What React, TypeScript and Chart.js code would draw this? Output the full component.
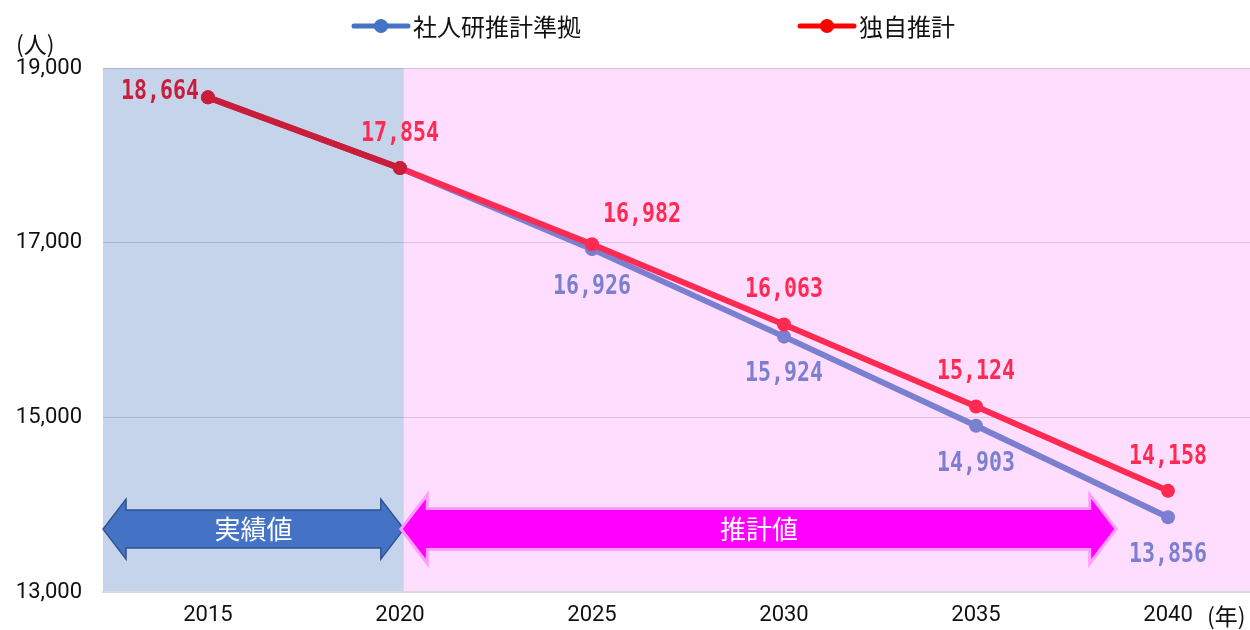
import { useEffect, useRef } from "react";
import { Chart, registerables } from "chart.js";

Chart.register(...registerables);

// ---- data ----
const YEARS = [2015, 2020, 2025, 2030, 2035, 2040];
const IPSS_VALUES = [18664, 17854, 16926, 15924, 14903, 13856]; // 社人研推計準拠
const OWN_VALUES = [18664, 17854, 16982, 16063, 15124, 14158]; // 独自推計
const SERIES_NAMES = ["社人研推計準拠", "独自推計"];
const PERIOD_LABELS = ["実績値", "推計値"];
const Y_MIN = 13000;
const Y_MAX = 19000;
const Y_STEP = 2000;
const Y_UNIT = "(人)";
const X_UNIT = "(年)";

// ---- layout / style (not data) ----
const X_MIN = 2012.266;
const X_MAX = 2042.135;
const SPLIT_YEAR = 2020.1;
const ARROW_VALUE = 13720;
const ESTIMATE_ARROW_END = 2038.6;
const IPSS_LABEL_FROM = 2;

const BLUE_BAND = "#C5D3EB";
const PINK_BAND = "#FFDDFF";
const RED = "#FF2A52";
const CRIMSON = "#C81E3C";
const PURPLE = "#7B7FD0";

const JP = "'Noto Sans CJK JP', sans-serif";
const NUM = "Roboto, 'Noto Sans CJK JP', sans-serif";

const fmt = (v: number) => Number(v).toLocaleString("en-US");

function drawValueLabel(ctx: CanvasRenderingContext2D, text: string, cx: number, cy: number, color: string) {
  ctx.save();
  ctx.translate(cx, cy);
  ctx.scale(0.83, 1);
  ctx.font = "bold 26px 'DejaVu Sans Mono', monospace";
  ctx.fillStyle = color;
  ctx.textAlign = "center";
  ctx.textBaseline = "middle";
  ctx.fillText(text, 0, 2);
  ctx.restore();
}

function arrowPath(ctx: CanvasRenderingContext2D, x0: number, x1: number, cy: number) {
  const sh = 19, hh = 30, hl = 23;
  ctx.beginPath();
  ctx.moveTo(x0, cy);
  ctx.lineTo(x0 + hl, cy - hh);
  ctx.lineTo(x0 + hl, cy - sh);
  ctx.lineTo(x1 - hl, cy - sh);
  ctx.lineTo(x1 - hl, cy - hh);
  ctx.lineTo(x1, cy);
  ctx.lineTo(x1 - hl, cy + hh);
  ctx.lineTo(x1 - hl, cy + sh);
  ctx.lineTo(x0 + hl, cy + sh);
  ctx.lineTo(x0 + hl, cy + hh);
  ctx.closePath();
}

const decorPlugin = {
  id: "decor",
  beforeDraw(chart: any) {
    const { ctx, chartArea: a, scales } = chart;
    const split = scales.x.getPixelForValue(SPLIT_YEAR);
    ctx.save();
    ctx.fillStyle = "#FFFFFF";
    ctx.fillRect(0, 0, chart.width, chart.height);
    ctx.fillStyle = BLUE_BAND;
    ctx.fillRect(a.left, a.top, split - a.left, a.bottom - a.top);
    ctx.fillStyle = PINK_BAND;
    ctx.fillRect(split, a.top, a.right - split, a.bottom - a.top);
    ctx.restore();
  },
  afterDatasetsDraw(chart: any) {
    const { ctx, scales } = chart;
    const x = scales.x, y = scales.y;
    OWN_VALUES.forEach((v, i) => {
      const px = x.getPixelForValue(YEARS[i]);
      const py = y.getPixelForValue(v);
      if (i === 0) drawValueLabel(ctx, fmt(v), px - 48, py - 7, CRIMSON);
      else if (i === 2) drawValueLabel(ctx, fmt(v), px + 50, py - 31, RED);
      else drawValueLabel(ctx, fmt(v), px, py - 36, RED);
    });
    IPSS_VALUES.forEach((v, i) => {
      if (i < IPSS_LABEL_FROM) return;
      const px = x.getPixelForValue(YEARS[i]);
      const py = y.getPixelForValue(v);
      drawValueLabel(ctx, fmt(v), px, py + 36, PURPLE);
    });
  },
  afterDraw(chart: any) {
    const { ctx, chartArea: a, scales } = chart;
    const x = scales.x, y = scales.y;
    const split = x.getPixelForValue(SPLIT_YEAR);
    const cy = y.getPixelForValue(ARROW_VALUE);
    const endX = x.getPixelForValue(ESTIMATE_ARROW_END);
    ctx.save();
    ctx.lineJoin = "miter";
    arrowPath(ctx, a.left, split, cy);
    ctx.fillStyle = "#4472C4";
    ctx.fill();
    ctx.lineWidth = 1.5;
    ctx.strokeStyle = "#2F528F";
    ctx.stroke();
    arrowPath(ctx, split - 1, endX, cy);
    ctx.lineWidth = 6;
    ctx.strokeStyle = "#FF9CFF";
    ctx.stroke();
    ctx.fillStyle = "#FF00FF";
    ctx.fill();
    ctx.fillStyle = "#FFFFFF";
    ctx.font = `26px ${JP}`;
    ctx.textAlign = "center";
    ctx.textBaseline = "middle";
    ctx.fillText(PERIOD_LABELS[0], (a.left + split) / 2, cy);
    ctx.fillText(PERIOD_LABELS[1], (split + endX) / 2, cy);

    const legendItems = [
      { x: 354, color: "#4472C4", text: SERIES_NAMES[0] },
      { x: 800, color: "#FF0000", text: SERIES_NAMES[1] },
    ];
    const ly = 26;
    legendItems.forEach((it) => {
      ctx.strokeStyle = it.color;
      ctx.lineWidth = 5;
      ctx.lineCap = "round";
      ctx.beginPath();
      ctx.moveTo(it.x, ly);
      ctx.lineTo(it.x + 54, ly);
      ctx.stroke();
      ctx.fillStyle = it.color;
      ctx.beginPath();
      ctx.arc(it.x + 27, ly, 7, 0, Math.PI * 2);
      ctx.fill();
      ctx.fillStyle = "#111111";
      ctx.font = `24px ${JP}`;
      ctx.textAlign = "left";
      ctx.textBaseline = "middle";
      ctx.fillText(it.text, it.x + 59, ly + 1);
    });

    ctx.fillStyle = "#111111";
    ctx.font = `23px ${JP}`;
    ctx.textAlign = "left";
    ctx.textBaseline = "middle";
    ctx.fillText(Y_UNIT, 16, 44);
    ctx.fillText(X_UNIT, 1207, 616);
    ctx.restore();
  },
};

export default function App() {
  const canvasRef = useRef<HTMLCanvasElement | null>(null);

  useEffect(() => {
    document.body.style.margin = "0";
    const canvas = canvasRef.current;
    if (!canvas) return;
    const chart = new Chart(canvas, {
      type: "line",
      data: {
        datasets: [
          {
            label: SERIES_NAMES[1],
            data: YEARS.map((yr, i) => ({ x: yr, y: OWN_VALUES[i] })),
            borderColor: RED,
            backgroundColor: RED,
            borderWidth: 6,
            pointRadius: 7,
            pointBorderWidth: 0,
            pointBackgroundColor: YEARS.map((yr) => (yr < SPLIT_YEAR ? CRIMSON : RED)),
            segment: {
              borderColor: (c: any) => (c.p1.parsed.x < SPLIT_YEAR ? CRIMSON : RED),
            },
            order: 0,
            fill: false,
            tension: 0,
          },
          {
            label: SERIES_NAMES[0],
            data: YEARS.map((yr, i) => ({ x: yr, y: IPSS_VALUES[i] })),
            borderColor: PURPLE,
            backgroundColor: PURPLE,
            borderWidth: 6,
            pointRadius: 7,
            pointBorderWidth: 0,
            pointBackgroundColor: YEARS.map((yr) => (yr < SPLIT_YEAR ? CRIMSON : PURPLE)),
            segment: {
              borderColor: (c: any) => (c.p1.parsed.x < SPLIT_YEAR ? CRIMSON : PURPLE),
            },
            order: 1,
            fill: false,
            tension: 0,
          },
        ],
      },
      options: {
        animation: false,
        responsive: false,
        devicePixelRatio: 1,
        layout: { autoPadding: false, padding: { top: 68, right: 0, bottom: 0, left: 0 } },
        plugins: {
          legend: { display: false },
          tooltip: { enabled: false },
        },
        scales: {
          x: {
            type: "linear",
            min: X_MIN,
            max: X_MAX,
            afterBuildTicks: (scale: any) => {
              scale.ticks = YEARS.map((v) => ({ value: v }));
            },
            afterFit: (scale: any) => {
              scale.height = 38;
              scale.paddingLeft = 0;
              scale.paddingRight = 0;
            },
            grid: { display: false, drawTicks: false },
            border: { display: true, color: "#D9D9D9", width: 2 },
            ticks: {
              padding: 10,
              color: "#111111",
              font: { family: NUM, size: 22 },
              callback: (v: any) => String(v),
              maxRotation: 0,
              autoSkip: false,
            },
          },
          y: {
            type: "linear",
            min: Y_MIN,
            max: Y_MAX,
            afterFit: (scale: any) => {
              scale.width = 103;
              scale.paddingTop = 0;
              scale.paddingBottom = 0;
            },
            grid: {
              drawTicks: false,
              color: (c: any) => (c.tick && c.tick.value === Y_MIN ? "rgba(0,0,0,0)" : "rgba(0,0,0,0.13)"),
              lineWidth: 1,
            },
            border: { display: false },
            ticks: {
              stepSize: Y_STEP,
              padding: 21,
              color: "#111111",
              font: { family: NUM, size: 22 },
              callback: (v: any) => fmt(v),
            },
          },
        },
      },
      plugins: [decorPlugin],
    } as any);
    return () => chart.destroy();
  }, []);

  return (
    <div style={{ width: 1250, height: 630 }}>
      <canvas ref={canvasRef} width={1250} height={630} style={{ display: "block" }} />
    </div>
  );
}
